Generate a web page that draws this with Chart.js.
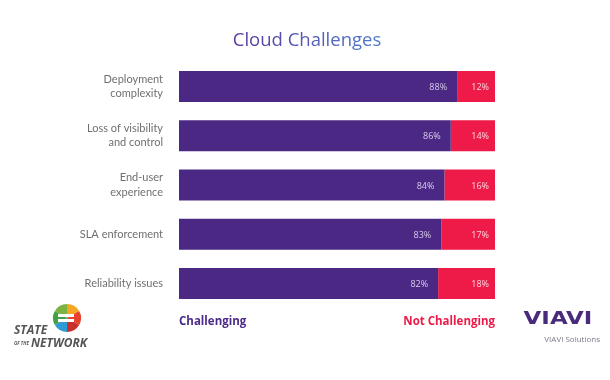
<!DOCTYPE html>
<html>
<head>
<meta charset="utf-8">
<script src="https://cdn.jsdelivr.net/npm/chart.js@4"></script>
<style>
  html, body { margin: 0; padding: 0; background: #fff; }
  #wrap { width: 610px; height: 380px; position: relative; }
</style>
</head>
<body>
<div id="wrap"><canvas id="chart" width="610" height="380"></canvas></div>
<script>
const categories = [
    ['Deployment', 'complexity'],
    ['Loss of visibility', 'and control'],
    ['End-user', 'experience'],
    'SLA enforcement',
    'Reliability issues'
];
const challenging = [88, 86, 84, 83, 82];
const notChallenging = [12, 14, 16, 17, 18];
const seriesNames = ['Challenging', 'Not Challenging'];
const titleText = 'Cloud Challenges';

const purple = '#4a2883';
const red = '#ee1a47';

// value labels inside each bar end
const valueLabels = {
    id: 'valueLabels',
    afterDatasetsDraw(chart) {
        const ctx = chart.ctx;
        ctx.save();
        ctx.font = '9px "Open Sans", sans-serif';
        ctx.textAlign = 'right';
        ctx.textBaseline = 'middle';
        chart.data.datasets.forEach((ds, i) => {
            const meta = chart.getDatasetMeta(i);
            ctx.fillStyle = i === 0 ? 'rgba(230,220,245,0.9)' : 'rgba(255,225,232,0.95)';
            meta.data.forEach((bar, j) => {
                const pad = i === 0 ? 10 : 6;
                ctx.fillText(ds.data[j] + '%', bar.x - pad, bar.y + 1);
            });
        });
        ctx.restore();
    }
};

// title, legend text and logos
const decorations = {
    id: 'decorations',
    afterDraw(chart) {
        const ctx = chart.ctx;
        const area = chart.chartArea;
        ctx.save();

        // title with a soft purple-to-blue tint
        ctx.font = '18.5px "Open Sans", sans-serif';
        ctx.textAlign = 'center';
        ctx.textBaseline = 'middle';
        const tw = ctx.measureText(titleText).width;
        const cx = 307;
        const grad = ctx.createLinearGradient(cx - tw / 2, 0, cx + tw / 2, 0);
        grad.addColorStop(0, '#5a3a9e');
        grad.addColorStop(1, '#4f7ccc');
        ctx.fillStyle = grad;
        ctx.fillText(titleText, cx, 41);

        // legend
        ctx.font = 'bold 11.5px "Open Sans", sans-serif';
        ctx.textBaseline = 'middle';
        ctx.textAlign = 'left';
        ctx.fillStyle = '#4b2a8a';
        ctx.fillText(seriesNames[0], area.left, 322);
        ctx.textAlign = 'right';
        ctx.fillStyle = red;
        ctx.fillText(seriesNames[1], area.right, 322);

        // STATE OF THE NETWORK logo
        const lx = 67, ly = 318, r = 14;
        const segs = ['#f5a623', '#e8412c', '#c9302c', '#2e9bd6', '#43a047', '#7cb342'];
        segs.forEach((c, k) => {
            ctx.beginPath();
            ctx.moveTo(lx, ly);
            ctx.arc(lx, ly, r, -Math.PI / 2 + k * Math.PI / 3, -Math.PI / 2 + (k + 1) * Math.PI / 3);
            ctx.closePath();
            ctx.fillStyle = c;
            ctx.fill();
        });
        ctx.fillStyle = '#fff';
        ctx.fillRect(lx - 9, ly - 4, 16, 3);
        ctx.fillRect(lx - 9, ly + 1, 16, 3);
        ctx.fillStyle = '#555';
        ctx.textAlign = 'left';
        ctx.font = 'italic bold 12px "Open Sans", sans-serif';
        ctx.fillText('STATE', 14, 331);
        ctx.font = 'italic bold 4.5px "Open Sans", sans-serif';
        ctx.fillText('OF THE', 14, 344);
        ctx.font = 'italic bold 12px "Open Sans", sans-serif';
        ctx.fillText('NETWORK', 31, 344);

        // VIAVI logo
        ctx.fillStyle = '#4a2a7a';
        ctx.font = 'bold 17px "DejaVu Sans", sans-serif';
        ctx.textAlign = 'center';
        ctx.save();
        ctx.translate(558, 320);
        ctx.scale(1.35, 1);
        ctx.fillText('VIAVI', 0, 0);
        ctx.restore();
        ctx.fillStyle = '#7a7a8a';
        ctx.font = '8px "Open Sans", sans-serif';
        ctx.textAlign = 'right';
        ctx.fillText('VIAVI Solutions', 600, 340);

        ctx.restore();
    }
};

const ctx = document.getElementById('chart').getContext('2d');
new Chart(ctx, {
    type: 'bar',
    data: {
        labels: categories,
        datasets: [
            {
                label: seriesNames[0],
                data: challenging,
                backgroundColor: purple,
                categoryPercentage: 1,
                barPercentage: 0.63
            },
            {
                label: seriesNames[1],
                data: notChallenging,
                backgroundColor: red,
                categoryPercentage: 1,
                barPercentage: 0.63
            }
        ]
    },
    options: {
        indexAxis: 'y',
        responsive: false,
        animation: false,
        layout: {
            padding: { top: 62, right: 115, bottom: 72, left: 0 }
        },
        plugins: {
            legend: { display: false },
            title: { display: false },
            tooltip: { enabled: false }
        },
        scales: {
            x: {
                stacked: true,
                min: 0,
                max: 100,
                display: false
            },
            y: {
                stacked: true,
                grid: { display: false },
                border: { display: false },
                afterFit(scale) { scale.width = 179; },
                ticks: {
                    color: '#707070',
                    padding: 8,
                    font: { family: 'Lato, sans-serif', size: 11, lineHeight: 1.3 }
                }
            }
        }
    },
    plugins: [valueLabels, decorations]
});
</script>
</body>
</html>
